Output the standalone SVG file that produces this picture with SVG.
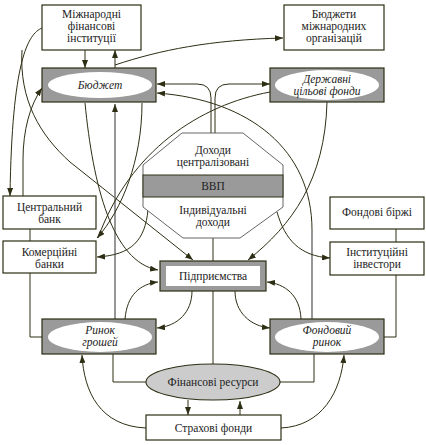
<svg xmlns="http://www.w3.org/2000/svg" width="426" height="445" viewBox="0 0 426 445">
<defs>
<marker id="ah" markerWidth="8" markerHeight="6" refX="8" refY="3" orient="auto" markerUnits="userSpaceOnUse">
<path d="M0,0 L8,3 L0,6 Z" fill="#2e2e14"/>
</marker>
<style>
.box{fill:#fff;stroke:#2e2e14;stroke-width:1.2}
.gbox{fill:#9a9a9a;stroke:#2e2e14;stroke-width:1.2}
.ell{fill:#fff;stroke:none}
.t{font-family:'Liberation Serif','Times New Roman','DejaVu Serif',serif;font-size:11.5px;fill:#222;text-anchor:middle}
.i{font-style:italic}
.c{fill:none;stroke:#2e2e14;stroke-width:1}
.g{fill:none;stroke:#6a6a6a;stroke-width:1.4}
</style>
</defs>
<rect width="426" height="445" fill="#fff"/>

<g id="connectors">
<path class="c" d="M85,50 L85,68" marker-end="url(#ah)"/>
<path class="c" d="M115,68 L115,50" marker-end="url(#ah)"/>
<path class="c" d="M115,65 C160,50 210,40 283,38" marker-end="url(#ah)"/>
<path class="c" d="M42,28 C28,34 12,60 10,196" marker-end="url(#ah)"/>
<path class="c" d="M22,50 C19,100 40,135 70,162 L193,260" marker-end="url(#ah)"/>
<path class="c" d="M23,196 L23,160 C23,130 30,105 42,88" marker-start="url(#ah)" marker-end="url(#ah)"/>
<path class="c" d="M211,133 L211,98 Q211,84 197,84 L157,84" marker-end="url(#ah)"/>
<path class="c" d="M215,133 L215,98 Q215,84 229,84 L270,84" marker-end="url(#ah)"/>
<path class="g" d="M115,319 L115,104" marker-end="url(#ah)"/>
<path class="g" d="M312,319 L312,230"/>
<path class="c" d="M312,230 C312,150 250,100 157,93" marker-end="url(#ah)"/>
<path class="c" d="M85,103 C93,185 112,262 158,270" marker-end="url(#ah)"/>
<path class="c" d="M142,103 C142,160 122,210 97,238" marker-end="url(#ah)"/>
<path class="c" d="M270,92 C200,105 130,150 98,238"/>
<path class="c" d="M148,210 C145,240 132,255 97,257" marker-end="url(#ah)"/>
<path class="c" d="M277,212 C285,240 300,256 330,258" marker-end="url(#ah)"/>
<path class="c" d="M327,102 C325,180 292,225 248,260" marker-end="url(#ah)"/>
<path class="c" d="M213,238 L213,261"/>
<path class="c" d="M213,291 L213,364"/>
<path class="c" d="M30,229 L30,241"/>
<path class="c" d="M30,273 L30,337 L42,337"/>
<path class="c" d="M396,229 L396,242"/>
<path class="c" d="M396,275 L396,337 L384,337"/>
<path class="c" d="M125,319 C127,295 140,284 158,282" marker-end="url(#ah)"/>
<path class="c" d="M192,291 C192,312 178,326 157,328" marker-end="url(#ah)"/>
<path class="c" d="M235,291 C235,312 250,326 270,328" marker-end="url(#ah)"/>
<path class="c" d="M301,319 C300,295 285,284 267,282" marker-end="url(#ah)"/>
<path class="c" d="M113,354 L113,382 L146,382"/>
<path class="c" d="M314,354 L314,382 L280,382"/>
<path class="c" d="M188,400 L188,415" marker-end="url(#ah)"/>
<path class="c" d="M240,415 L240,401" marker-end="url(#ah)"/>
<path class="c" d="M146,428 C100,426 84,392 82,355" marker-end="url(#ah)"/>
<path class="c" d="M281,428 C322,426 341,392 344,355" marker-end="url(#ah)"/>
</g>

<g id="mfi">
<rect class="box" x="42" y="5" width="99" height="45"/>
<text class="t" x="91.5" y="18">Міжнародні</text>
<text class="t" x="91.5" y="30">фінансові</text>
<text class="t" x="91.5" y="42">інституції</text>
</g>
<g id="bmo">
<rect class="box" x="284" y="5" width="100" height="45"/>
<text class="t" x="334" y="18">Бюджети</text>
<text class="t" x="334" y="30">міжнародних</text>
<text class="t" x="334" y="42">організацій</text>
</g>
<g id="budget">
<rect class="gbox" x="42" y="68" width="114" height="34"/>
<ellipse class="ell" cx="100" cy="85" rx="52" ry="13"/>
<text class="t i" x="100" y="89">Бюджет</text>
</g>
<g id="dcf">
<rect class="gbox" x="270" y="68" width="114" height="34"/>
<ellipse class="ell" cx="327" cy="85" rx="52" ry="15"/>
<text class="t i" x="327" y="83">Державні</text>
<text class="t i" x="327" y="95">цільові фонди</text>
</g>
<g id="vvp">
<path d="M182,133 L243,133 L283,165 L283,207 L240,238 L183,238 L143,207 L143,165 Z" fill="#fff" stroke="#555" stroke-width="0.9"/>
<rect x="143" y="175" width="140" height="22" fill="#9a9a9a" stroke="#2e2e14" stroke-width="1"/>
<text class="t" x="213" y="154">Доходи</text>
<text class="t" x="213" y="166">централізовані</text>
<text class="t" x="213" y="190">ВВП</text>
<text class="t" x="213" y="214">Індивідуальні</text>
<text class="t" x="213" y="226">доходи</text>
</g>
<g id="cb">
<rect class="box" x="3" y="196" width="93" height="33"/>
<text class="t" x="49.5" y="211">Центральний</text>
<text class="t" x="49.5" y="223">банк</text>
</g>
<g id="kb">
<rect class="box" x="3" y="241" width="93" height="32"/>
<text class="t" x="49.5" y="256">Комерційні</text>
<text class="t" x="49.5" y="268">банки</text>
</g>
<g id="fb">
<rect class="box" x="330" y="197" width="94" height="32"/>
<text class="t" x="377" y="216">Фондові біржі</text>
</g>
<g id="ii">
<rect class="box" x="330" y="242" width="94" height="33"/>
<text class="t" x="377" y="256">Інституційні</text>
<text class="t" x="377" y="268">інвестори</text>
</g>
<g id="pidpr">
<rect class="gbox" x="160" y="261" width="106" height="30"/>
<rect x="166" y="266" width="94" height="20" fill="#fff"/>
<text class="t" x="213" y="280">Підприємства</text>
</g>
<g id="rg">
<rect class="gbox" x="42" y="319" width="114" height="35"/>
<ellipse class="ell" cx="100" cy="337" rx="52" ry="15"/>
<text class="t i" x="100" y="334">Ринок</text>
<text class="t i" x="100" y="346">грошей</text>
</g>
<g id="fr">
<rect class="gbox" x="270" y="319" width="114" height="35"/>
<ellipse class="ell" cx="327" cy="337" rx="52" ry="15"/>
<text class="t i" x="327" y="334">Фондовий</text>
<text class="t i" x="327" y="346">ринок</text>
</g>
<g id="finres">
<ellipse cx="213" cy="382" rx="67" ry="18" fill="#cccccc" stroke="#2e2e14" stroke-width="1.1"/>
<text class="t" x="213" y="386">Фінансові ресурси</text>
</g>
<g id="sf">
<rect class="box" x="146" y="415" width="135" height="25"/>
<text class="t" x="213.5" y="432">Страхові фонди</text>
</g>
</svg>
